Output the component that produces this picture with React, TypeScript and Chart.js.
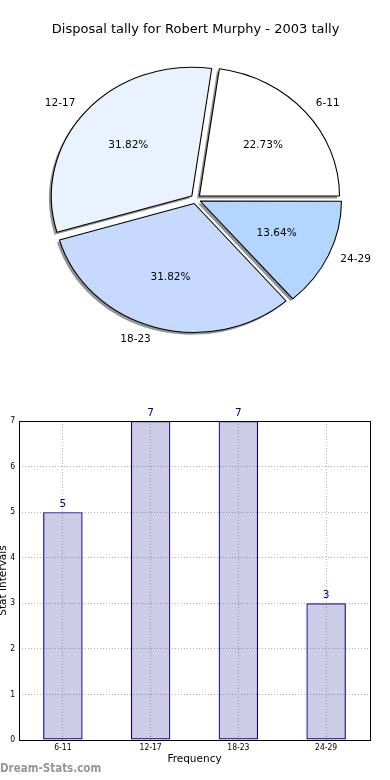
import React, { useEffect, useRef } from "react";
import { Chart, registerables } from "chart.js";

Chart.register(...registerables);

// ---- data ----
const TITLE = "Disposal tally for Robert Murphy - 2003 tally";
const categories = ["6-11", "12-17", "18-23", "24-29"];
const counts = [5, 7, 7, 3];
const pieColors = ["#ffffff", "#ebf2ff", "#c6d9ff", "#b3d5ff"];
const yTicks = [0, 1, 2, 3, 4, 5, 6, 7];
const X_TITLE = "Frequency";
const Y_TITLE = "Stat Intervals";
const WATERMARK = "Dream-Stats.com";

// ---- styles ----
const SANS = '"DejaVu Sans", sans-serif';
const COND = '"DejaVu Sans Condensed", "Liberation Sans Narrow", "DejaVu Sans", sans-serif';
const SX = 1.09; // horizontal stretch of the pie
const EXPLODE = 4.6; // px
const GRID = "#b4b4b4";
const NAVY = "#000080";

const total = counts.reduce((a, b) => a + b, 0);
// matplotlib draws counter-clockwise from 3 o'clock; Chart.js goes clockwise, so reverse
const order = categories.map((_, i) => i).reverse();

const pieDecor = {
  id: "pieDecor",
  beforeDatasetsDraw(chart: any) {
    const ctx = chart.ctx as CanvasRenderingContext2D;
    const arcs = chart.getDatasetMeta(0).data;
    const cx = arcs.length ? arcs[0].x : 0;
    ctx.save();
    ctx.translate(cx, 0);
    ctx.scale(SX, 1);
    ctx.translate(-cx, 0);
    // shadows
    ctx.save();
    ctx.translate(-2.2, 2.4);
    arcs.forEach((a: any) => {
      const o = a.options;
      a.options = Object.assign({}, o, {
        backgroundColor: "rgba(0,0,0,0.42)",
        borderWidth: 0,
        borderColor: "rgba(0,0,0,0)",
      });
      a.draw(ctx);
      a.options = o;
    });
    ctx.restore();
  },
  afterDatasetsDraw(chart: any) {
    const ctx = chart.ctx as CanvasRenderingContext2D;
    ctx.restore();
    const arcs = chart.getDatasetMeta(0).data;
    ctx.save();
    ctx.fillStyle = "#000";
    ctx.font = `10.5px ${SANS}`;
    ctx.textBaseline = "middle";
    arcs.forEach((a: any, i: number) => {
      const p = a.getProps(["x", "y", "startAngle", "endAngle", "outerRadius"], true);
      const mid = (p.startAngle + p.endAngle) / 2;
      const off = (a.options.offset || 0) / 4; // Chart.js applies offset/4
      const ux = Math.cos(mid);
      const uy = Math.sin(mid);
      const ci = order[i];
      // category label
      const lr = off + 1.1 * p.outerRadius;
      ctx.textAlign = ux > 0 ? "left" : "right";
      ctx.fillText(categories[ci], p.x + lr * ux * SX, p.y + lr * uy);
      // percentage
      const pr = off + 0.6 * p.outerRadius;
      ctx.textAlign = "center";
      const pct = ((counts[ci] / total) * 100).toFixed(2) + "%";
      ctx.fillText(pct, p.x + pr * ux * SX, p.y + pr * uy);
    });
    ctx.restore();
  },
};

const barDecor = {
  id: "barDecor",
  afterDatasetsDraw(chart: any) {
    const ctx = chart.ctx as CanvasRenderingContext2D;
    const bars = chart.getDatasetMeta(0).data;
    ctx.save();
    ctx.fillStyle = NAVY;
    ctx.font = `10.5px ${SANS}`;
    ctx.textAlign = "center";
    ctx.textBaseline = "bottom";
    bars.forEach((b: any, i: number) => {
      ctx.fillText(String(counts[i]), b.x, b.y - 2.5);
    });
    ctx.restore();
  },
  afterDraw(chart: any) {
    const ctx = chart.ctx as CanvasRenderingContext2D;
    const a = chart.chartArea;
    ctx.save();
    ctx.strokeStyle = "#000";
    ctx.lineWidth = 1;
    ctx.strokeRect(
      Math.round(a.left) + 0.5,
      Math.round(a.top) + 0.5,
      Math.round(a.right) - Math.round(a.left),
      Math.round(a.bottom) - Math.round(a.top)
    );
    ctx.restore();
  },
};

function PieChart() {
  const ref = useRef<HTMLCanvasElement>(null);
  useEffect(() => {
    const chart = new Chart(ref.current as HTMLCanvasElement, {
      type: "pie",
      data: {
        labels: order.map((i) => categories[i]),
        datasets: [
          {
            data: order.map((i) => counts[i]),
            backgroundColor: order.map((i) => pieColors[i]),
            borderColor: "#000",
            borderWidth: 1,
            offset: EXPLODE * 4,
            radius: 128.5,
            clip: false,
          } as any,
        ],
      },
      options: {
        responsive: false,
        animation: false,
        rotation: 90,
        layout: { padding: { left: 1.2, right: 0, top: 0, bottom: 19.4 } },
        plugins: {
          legend: { display: false },
          tooltip: { enabled: false },
          title: {
            display: true,
            text: TITLE,
            color: "#000",
            font: { family: SANS, size: 13, weight: "normal" },
            padding: { top: 22, bottom: 10 },
          },
        },
      } as any,
      plugins: [pieDecor],
    });
    return () => chart.destroy();
  }, []);
  return (
    <canvas
      ref={ref}
      width={390}
      height={370}
      style={{ position: "absolute", left: 0, top: 0, width: 390, height: 370 }}
    />
  );
}

function BarChart() {
  const ref = useRef<HTMLCanvasElement>(null);
  useEffect(() => {
    const chart = new Chart(ref.current as HTMLCanvasElement, {
      type: "bar",
      data: {
        labels: categories,
        datasets: [
          {
            data: counts,
            backgroundColor: "rgba(0,0,128,0.2)",
            borderColor: NAVY,
            borderWidth: 1.2,
            borderSkipped: false,
            barPercentage: 0.45,
            categoryPercentage: 1,
          } as any,
        ],
      },
      options: {
        responsive: false,
        animation: false,
        layout: { padding: { top: 41, right: 20, left: 0, bottom: 0 } },
        plugins: { legend: { display: false }, tooltip: { enabled: false } },
        scales: {
          x: {
            type: "category",
            grid: { offset: false, color: GRID, drawTicks: false, lineWidth: 1 },
            border: { display: false, dash: [1, 2] },
            ticks: { font: { family: COND, size: 8.5 }, color: "#000", padding: 3, maxRotation: 0 },
            title: {
              display: true,
              text: X_TITLE,
              color: "#000",
              font: { family: SANS, size: 10.5 },
              padding: { top: 0, bottom: 14 },
            },
            afterFit(s: any) {
              s.height = 40;
            },
          },
          y: {
            min: 0,
            max: 7,
            afterBuildTicks(s: any) {
              s.ticks = yTicks.map((v) => ({ value: v }));
            },
            ticks: { font: { family: COND, size: 8.5 }, color: "#000", padding: 4 },
            grid: { color: GRID, drawTicks: false, lineWidth: 1 },
            border: { display: false, dash: [1, 2] },
            title: {
              display: true,
              text: Y_TITLE,
              color: "#000",
              font: { family: SANS, size: 10.5 },
              padding: { top: 4, bottom: 0 },
            },
            afterFit(s: any) {
              s.width = 26;
            },
          },
        },
      } as any,
      plugins: [barDecor],
    });
    return () => chart.destroy();
  }, []);
  return (
    <canvas
      ref={ref}
      width={397}
      height={400}
      style={{ position: "absolute", left: -7, top: 380, width: 397, height: 400 }}
    />
  );
}

export default function App() {
  return (
    <div
      style={{
        position: "absolute",
        left: 0,
        top: 0,
        width: 390,
        height: 780,
        overflow: "hidden",
        background: "#fff",
      }}
    >
      <PieChart />
      <BarChart />
      <div
        style={{
          position: "absolute",
          left: 0,
          top: 761,
          font: `bold 11.5px ${COND}`,
          color: "#959595",
          whiteSpace: "nowrap",
        }}
      >
        {WATERMARK}
      </div>
    </div>
  );
}
